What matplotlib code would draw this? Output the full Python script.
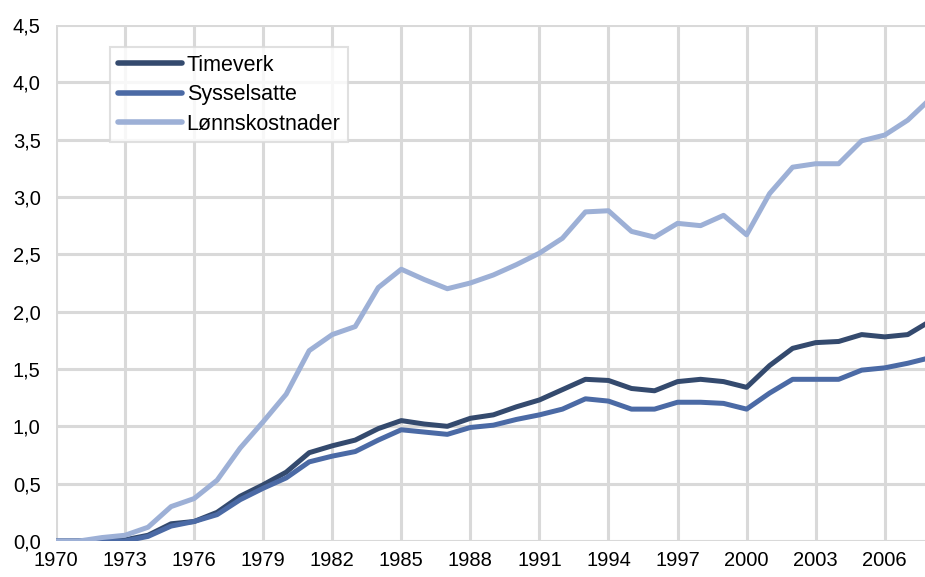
import matplotlib.pyplot as plt
import numpy as np

plt.rcParams['font.family'] = ['Liberation Sans', 'DejaVu Sans']

# ── Data ──
years = list(range(1970, 2009))

timeverk = [0.00, 0.00, 0.00, 0.01, 0.05, 0.15, 0.17, 0.25, 0.39, 0.49,
            0.60, 0.77, 0.83, 0.88, 0.98, 1.05, 1.02, 1.00, 1.07, 1.10,
            1.17, 1.23, 1.32, 1.41, 1.40, 1.33, 1.31, 1.39, 1.41, 1.39,
            1.34, 1.53, 1.68, 1.73, 1.74, 1.80, 1.78, 1.80, 1.92]

sysselsatte = [0.00, 0.00, 0.00, 0.00, 0.04, 0.13, 0.17, 0.23, 0.36, 0.46,
               0.55, 0.69, 0.74, 0.78, 0.88, 0.97, 0.95, 0.93, 0.99, 1.01,
               1.06, 1.10, 1.15, 1.24, 1.22, 1.15, 1.15, 1.21, 1.21, 1.20,
               1.15, 1.29, 1.41, 1.41, 1.41, 1.49, 1.51, 1.55, 1.60]

lonnskostnader = [0.00, 0.00, 0.03, 0.05, 0.12, 0.30, 0.37, 0.53, 0.81, 1.04,
                  1.28, 1.66, 1.80, 1.87, 2.21, 2.37, 2.28, 2.20, 2.25, 2.32,
                  2.41, 2.51, 2.64, 2.87, 2.88, 2.70, 2.65, 2.77, 2.75, 2.84,
                  2.67, 3.03, 3.26, 3.29, 3.29, 3.49, 3.54, 3.67, 3.86]

xticks = list(range(1970, 2007, 3))
yticks = [0.0, 0.5, 1.0, 1.5, 2.0, 2.5, 3.0, 3.5, 4.0, 4.5]

# ── Plot ──
fig = plt.figure(figsize=(9.25, 5.77), dpi=100)
ax = fig.add_axes([0.0605, 0.0624, 0.9395, 0.8943])

ax.plot(years, timeverk, color='#344a6e', linewidth=3.6, label='Timeverk', zorder=3)
ax.plot(years, sysselsatte, color='#4b6aa5', linewidth=3.6, label='Sysselsatte', zorder=3)
ax.plot(years, lonnskostnader, color='#9db0d6', linewidth=3.6, label='Lønnskostnader', zorder=3)

ax.set_xlim(1970, 2007.75)
ax.set_ylim(0, 4.5)
ax.set_xticks(xticks)
ax.set_yticks(yticks)
ax.set_yticklabels([f'{v:.1f}'.replace('.', ',') for v in yticks])
ax.tick_params(length=0, labelsize=14.5)
ax.tick_params(axis='y', pad=11)
ax.tick_params(axis='x', pad=7)

ax.grid(True, color='#d9d9d9', linewidth=2.2)
ax.set_axisbelow(True)
for s in ax.spines.values():
    s.set_visible(False)

leg = ax.legend(loc='upper left', bbox_to_anchor=(0.0625, 0.957), borderaxespad=0,
                fontsize=15.5, frameon=True, fancybox=False, handlelength=3.0,
                handletextpad=0.2, labelspacing=0.4, borderpad=0.35)
leg.get_frame().set_edgecolor('#d9d9d9')
leg.get_frame().set_linewidth(1.5)
for line in leg.get_lines():
    line.set_solid_capstyle('round')
    line.set_linewidth(4.0)

plt.savefig('out.png', dpi=100)
